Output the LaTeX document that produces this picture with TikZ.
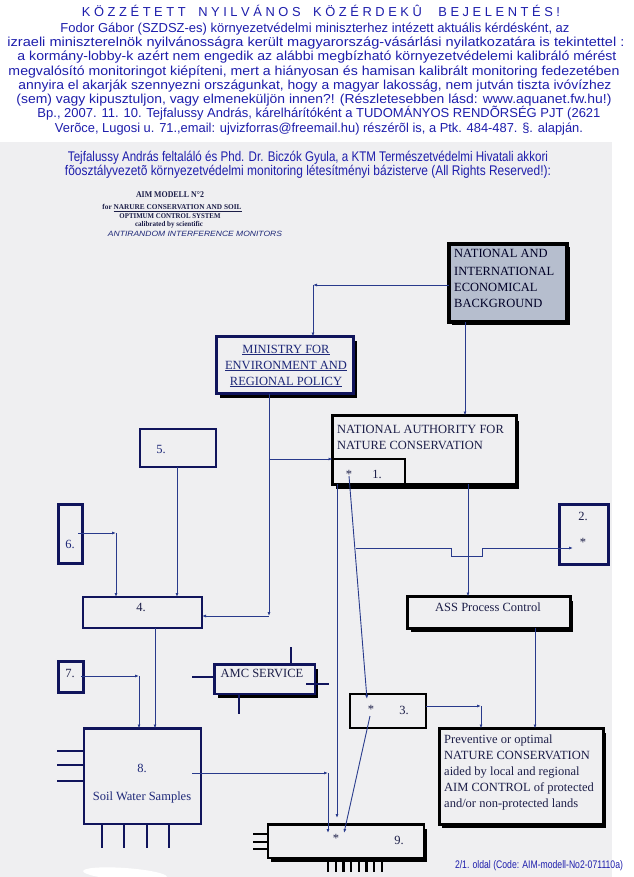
\documentclass[tikz,border=0pt]{standalone}
\usepackage{fontspec}
\usepackage{graphicx}
\setmainfont{Liberation Serif}
\newfontfamily\hsans{Liberation Sans}
\usetikzlibrary{arrows.meta,shadows,calc}
\definecolor{hblue}{RGB}{30,30,172}
\definecolor{panel}{RGB}{239,239,241}
\definecolor{navy}{RGB}{16,20,92}
\definecolor{ink}{RGB}{28,30,72}
\definecolor{mblue}{RGB}{30,40,120}
\definecolor{cline}{RGB}{40,58,140}
\definecolor{natfill}{RGB}{182,190,206}
\newcommand\myfit[2]{\resizebox{#1}{\height}{#2}}
\newcommand\btf{\fontsize{12.5}{15}\selectfont}
\newcommand\hdf{\hsans\fontsize{13}{14}\selectfont}
\newcommand\sbf{\hsans\fontsize{14}{15}\selectfont}
\tikzset{
  hl/.style={font=\hdf, text=hblue, inner sep=0pt, anchor=base},
  sl/.style={font=\sbf, text=hblue, inner sep=0pt, anchor=base},
  al/.style={text=ink, inner sep=0pt, anchor=base},
  bt/.style={font=\btf, text=ink, inner sep=0pt, anchor=base},
  btw/.style={bt, anchor=base west},
  bxn/.style={draw=navy, fill=panel, inner sep=0pt, outer sep=0pt, anchor=north west},
  bxk/.style={draw=black, fill=panel, inner sep=0pt, outer sep=0pt, anchor=north west},
  shd/.style 2 args={drop shadow={shadow xshift=#1, shadow yshift=#2, fill=black, opacity=1}},
  cn/.style={draw=cline, line width=0.9pt, -{Latex[length=4pt,width=3pt]}},
  pn/.style={draw=navy, line width=2.3pt},
  pk/.style={draw=black, line width=2.3pt},
}
\begin{document}
\begin{tikzpicture}[x=1pt,y=-1pt]
\useasboundingbox (0,0) rectangle (633,877);
\fill[white] (0,0) rectangle (633,877);
\fill[panel] (0,142) rectangle (612,877);
\fill[white, rotate around={-4:(125,874)}] (125,874) ellipse [x radius=42, y radius=6];

% header
\node[hl] (h1) at (321,17) {\myfit{478pt}{K Ö Z Z É T E T T\hspace{.7em} N Y I L V Á N O S\hspace{.7em} K Ö Z É R D E K Û\hspace{1em} B E J E L E N T É S !}};
\node[hl] (h2) at (315,33) {\myfit{509pt}{Fodor Gábor (SZDSZ-es) környezetvédelmi miniszterhez intézett aktuális kérdésként, az}};
\node[hl] (h3) at (316,47) {\myfit{617pt}{izraeli miniszterelnök nyilvánosságra került magyarország-vásárlási nyilatkozatára is tekintettel :}};
\node[hl] (h4) at (317,61) {\myfit{599pt}{a kormány-lobby-k azért nem engedik az alábbi megbízható környezetvédelemi kalibráló mérést}};
\node[hl] (h5) at (314,76) {\myfit{611pt}{megvalósító monitoringot kiépíteni, mert a hiányosan és hamisan kalibrált monitoring fedezetében}};
\node[hl] (h6) at (315,90) {\myfit{593pt}{annyira el akarják szennyezni országunkat, hogy a magyar lakosság, nem jutván tiszta ivóvízhez}};
\node[hl] (h7) at (314,104) {\myfit{595pt}{(sem) vagy kipusztuljon, vagy elmeneküljön innen?! (Részletesebben lásd: www.aquanet.fw.hu!)}};
\node[hl] (h8) at (319,118) {\myfit{563pt}{Bp., 2007. 11. 10. Tejfalussy András, kárelhárítóként a TUDOMÁNYOS RENDÕRSÉG PJT (2621}};
\node[hl] (h9) at (319,133) {\myfit{528pt}{Verõce, Lugosi u. 71.,email: ujvizforras@freemail.hu) részérõl is, a Ptk. 484-487. §. alapján.}};

% subtitle
\node[sl] (s1) at (308,161.5) {\myfit{480pt}{Tejfalussy András feltaláló és Phd. Dr. Biczók Gyula, a KTM Természetvédelmi Hivatali akkori}};
\node[sl] (s2) at (308,175.5) {\myfit{486pt}{fõosztályvezetõ környezetvédelmi monitoring létesítményi bázisterve (All Rights Reserved!):}};

% AIM block
\node[al, font=\bfseries\fontsize{8.8}{10}\selectfont] (aim1) at (170,198) {\myfit{68pt}{AIM MODELL N°2}};
\node[al, font=\bfseries\fontsize{7.4}{9}\selectfont] (aim2) at (172,209.5) {\myfit{139pt}{for \underline{NARURE CONSERVATION AND SOIL}}};
\node[al, font=\bfseries\fontsize{7.4}{9}\selectfont] (aim3) at (170,218.5) {\myfit{101pt}{OPTIMUM CONTROL SYSTEM}};
\node[al, font=\bfseries\fontsize{7.3}{9}\selectfont] (aim4) at (169,226.5) {\myfit{68pt}{calibrated by scientific}};
\node[al, font=\hsans\itshape\fontsize{7.6}{9}\selectfont, text=mblue] (aim5) at (195,236.5) {\myfit{174pt}{ANTIRANDOM INTERFERENCE MONITORS}};

% boxes
\node[bxk, line width=4pt, fill=natfill, shd={3pt}{-3pt}, minimum width=118pt, minimum height=78pt] (nat) at (449,244) {};
\node[bxn, line width=3pt, shd={3pt}{-4pt}, minimum width=137pt, minimum height=57pt] (min) at (216.5,336.5) {};
\node[bxk, line width=3pt, shd={3pt}{-5pt}, minimum width=183.5pt, minimum height=68.5pt] (na) at (332.5,415.5) {};
\node[bxk, line width=2.5pt, minimum width=72.5pt, minimum height=25pt] (b1) at (332.5,459) {};
\node[bxn, line width=2.2pt, minimum width=76pt, minimum height=38pt] (b5) at (140,429) {};
\node[bxn, line width=3pt, minimum width=24pt, minimum height=59pt] (b6) at (58.5,504.5) {};
\node[bxn, line width=3pt, minimum width=49pt, minimum height=60pt] (b2) at (559,504) {};
\node[bxn, line width=2.5pt, minimum width=119pt, minimum height=31pt] (b4) at (83,597) {};
\node[bxk, line width=3pt, shd={3pt}{-4pt}, minimum width=162.5pt, minimum height=31.5pt] (ass) at (407.5,596.5) {};
\node[bxn, line width=2.5pt, minimum width=25pt, minimum height=31pt] (b7) at (58.5,661.5) {};
\node[bxn, line width=2.5pt, shd={3pt}{-4pt}, minimum width=100.5pt, minimum height=29.5pt] (amc) at (214.5,664.5) {};
\node[bxk, line width=2.5pt, minimum width=76pt, minimum height=34pt] (b3) at (350,694) {};
\node[bxk, line width=3pt, shd={3pt}{-4pt}, minimum width=164pt, minimum height=95.5pt] (prev) at (439,728.5) {};
\node[bxn, line width=2.5pt, minimum width=117pt, minimum height=95.5pt] (soil) at (84,728.5) {};
\node[bxk, line width=2.5pt, shd={3pt}{-4pt}, minimum width=156pt, minimum height=33.5pt] (b9) at (268,824.5) {};

% pins
\foreach \yy in {751,765,781} \draw[pn] (57,\yy) -- (soil.west |- 0,\yy);
\foreach \xx in {102,124,147,169} \draw[pn] (soil.south -| \xx,0) -- (\xx,848);
\draw[pn] (amc.north -| 291,0) -- (291,647);
\draw[pn] (192,677) -- (amc.west |- 0,677);
\draw[pn] (306,684) -- (329,684);
\draw[pn] (amc.south -| 239,0) -- (239,714);
\foreach \yy in {834,842,849} \draw[pk] (253,\yy) -- (b9.west |- 0,\yy);
\foreach \i in {0,...,7} \draw[pk] ({328+7.7*\i},860) -- ({328+7.7*\i},872);

% box texts
\node[font=\fontsize{12.5}{15}\selectfont, text=black!85!blue, inner sep=0pt, anchor=base west] (natt1) at (454,258) {NATIONAL AND};
\node[font=\fontsize{12.5}{15}\selectfont, text=black!85!blue, inner sep=0pt, anchor=base west] (natt2) at (454,275) {INTERNATIONAL};
\node[font=\fontsize{12.5}{15}\selectfont, text=black!85!blue, inner sep=0pt, anchor=base west] (natt3) at (454,291) {ECONOMICAL};
\node[font=\fontsize{12.5}{15}\selectfont, text=black!85!blue, inner sep=0pt, anchor=base west] (natt4) at (454,307) {BACKGROUND};
\node[bt, text=mblue] (mint1) at (286,353) {\underline{MINISTRY FOR}};
\node[bt, text=mblue] (mint2) at (286,369) {\underline{ENVIRONMENT AND}};
\node[bt, text=mblue] (mint3) at (286,385) {\underline{REGIONAL POLICY}};
\node[btw] (nat1) at (337,433) {NATIONAL AUTHORITY FOR};
\node[btw] (nat2) at (337,449) {NATURE CONSERVATION};
\node[bt] (st1) at (349,478) {*};
\node[bt] (n1) at (377,478) {1.};
\node[bt, text=mblue] (n5) at (161,453) {5.};
\node[bt, text=mblue] (n6) at (70,548) {6.};
\node[bt] (n2) at (583,520) {2.};
\node[bt] (st2) at (583,546) {*};
\node[bt] (n4) at (141,611) {4.};
\node[bt] (asst) at (488,611) {ASS Process Control};
\node[bt] (n7) at (70,677) {7.};
\node[bt] (amct) at (262,677) {AMC SERVICE};
\node[bt] (st3) at (371,713) {*};
\node[bt] (n3) at (404,714) {3.};
\foreach \t [count=\i] in {Preventive or optimal, NATURE CONSERVATION, aided by local and regional, AIM CONTROL of protected, and/or non-protected lands}
  \node[btw] (prev\i) at (444,{743+16*(\i-1)}) {\t};
\node[bt, text=mblue] (n8) at (142,772) {8.};
\node[bt, text=mblue] (soilt) at (142,800) {Soil Water Samples};
\node[bt] (st9) at (336,842) {*};
\node[bt] (n9) at (399,844) {9.};

% connectors
\coordinate (k1) at (313,285);
\draw[cn] (nat.west |- k1) -- (k1);
\draw[cn] (k1) -- (min.north -| k1);
\coordinate (k2) at (465,380);
\draw[cn] (nat.south -| k2) -- (na.north -| k2);
\coordinate (k3) at (269,616);
\draw[cn] (min.south -| k3) -- (k3);
\draw[cn] (k3) -- (b4.east |- k3);
\coordinate (k4) at (269,459);
\draw[cn] (k4) -- (na.west |- k4);
\coordinate (k5) at (337,818);
\draw[cn] (na.south -| k5) -- (k5);
\coordinate (d1) at (349,476);
\coordinate (d2) at (367,699);
\draw[cn] (d1) -- (d2);
\coordinate (e0) at (356,548);
\coordinate (e5) at (573,548);
\draw[cn] (e0) -- (451,548) -- (451,556) -- (482,556) -- (482,548) -- (e5);
\coordinate (k6) at (468,560);
\draw[cn] (na.south -| k6) -- (ass.north -| k6);
\coordinate (k7) at (535,680);
\draw[cn] (ass.south -| k7) -- (prev.north -| k7);
\coordinate (k8) at (481,706);
\draw[cn] (b3.east |- k8) -- (k8);
\draw[cn] (k8) -- (prev.north -| k8);
\coordinate (k9) at (177,520);
\draw[cn] (b5.south -| k9) -- (b4.north -| k9);
\coordinate (k10s) at (78,533);
\coordinate (k10) at (116,533);
\draw[cn] (k10s) -- (k10);
\draw[cn] (k10) -- (b4.north -| k10);
\coordinate (k11) at (155,680);
\draw[cn] (b4.south -| k11) -- (soil.north -| k11);
\coordinate (k12s) at (81,676);
\coordinate (k12) at (139,676);
\draw[cn] (k12s) -- (k12);
\draw[cn] (k12) -- (soil.north -| k12);
\coordinate (k13s) at (192,773);
\coordinate (k13) at (328,773);
\coordinate (k13e) at (328,833);
\draw[cn] (k13s) -- (k13);
\draw[cn] (k13) -- (k13e);
\coordinate (d3) at (370,716);
\coordinate (d4) at (344,833);
\draw[cn] (d3) -- (d4);

% footer
\node[font=\hsans\fontsize{11}{12}\selectfont, text=hblue, inner sep=0pt, anchor=base] (foot) at (539,868) {\myfit{168pt}{2/1. oldal (Code: AIM-modell-No2-071110a)}};
\end{tikzpicture}
\end{document}
